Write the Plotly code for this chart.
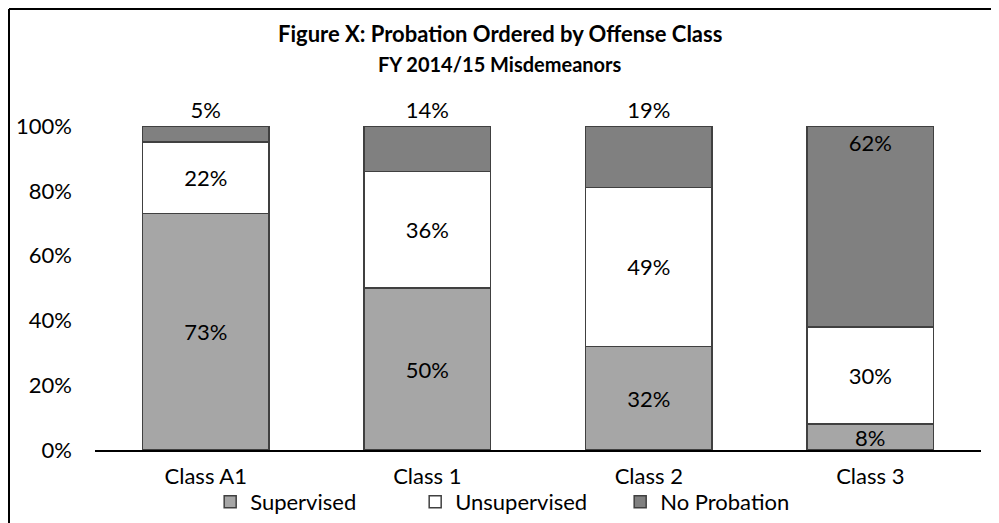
import plotly.graph_objects as go

categories = ["Class A1", "Class 1", "Class 2", "Class 3"]
supervised = [73, 50, 32, 8]
unsupervised = [22, 36, 49, 30]
no_probation = [5, 14, 19, 62]
ytick_vals = [0, 20, 40, 60, 80, 100]
ytick_text = ["0%", "20%", "40%", "60%", "80%", "100%"]

FONT = "Lato, Carlito, sans-serif"
edge = dict(color="#404040", width=1.5)

# page body adds an 8px offset, so the figure is 8px smaller than the window
W, H = 991, 515
ML, MR, MT, MB = 87, 18, 118, 73
PW, PH = W - ML - MR, H - MT - MB

fig = go.Figure()
fig.add_trace(go.Bar(
    name="Supervised", x=categories, y=supervised,
    marker=dict(color="#A6A6A6", line=edge),
    text=[f"{v}%" for v in supervised], textposition="inside",
    insidetextanchor="middle", textfont=dict(size=22, color="black"),
))
fig.add_trace(go.Bar(
    name="Unsupervised", x=categories, y=unsupervised,
    marker=dict(color="white", line=edge),
    text=[f"{v}%" for v in unsupervised], textposition="inside",
    insidetextanchor="middle", textfont=dict(size=22, color="black"),
))
fig.add_trace(go.Bar(
    name="No Probation", x=categories, y=no_probation,
    marker=dict(color="#808080", line=edge),
    text=[f"{v}%" for v in no_probation],
    textposition=["outside", "outside", "outside", "inside"],
    insidetextanchor="end", textfont=dict(size=22, color="black"),
    cliponaxis=False,
))

fig.update_layout(
    width=W, height=H,
    barmode="stack", bargap=0.431,
    paper_bgcolor="white", plot_bgcolor="white",
    font=dict(family=FONT, size=22, color="black"),
    margin=dict(l=ML, r=MR, t=MT, b=MB, autoexpand=False),
    uniformtext=dict(minsize=22, mode="show"),
    xaxis=dict(showline=True, linecolor="black", linewidth=2, ticks="",
               tickfont=dict(size=22), showgrid=False, automargin=False,
               ticklabelstandoff=6),
    yaxis=dict(range=[0, 100], tickvals=ytick_vals, ticktext=ytick_text,
               showgrid=False, showline=False, zeroline=False,
               tickfont=dict(size=22), ticks="", ticklabelstandoff=22,
               automargin=False),
    legend=dict(orientation="h", x=0.13, xanchor="left",
                yref="container", y=-0.008, yanchor="bottom",
                bgcolor="rgba(0,0,0,0)",
                entrywidth=160, font=dict(size=22), traceorder="normal"),
    showlegend=True,
)

fig.add_annotation(text="<b>Figure X: Probation Ordered by Offense Class</b>",
                   xref="paper", yref="paper", x=(492 - ML) / PW, y=1.0, yshift=93,
                   showarrow=False, font=dict(size=22, family=FONT),
                   xanchor="center", yanchor="middle")
fig.add_annotation(text="<b>FY 2014/15 Misdemeanors</b>",
                   xref="paper", yref="paper", x=(492 - ML) / PW, y=1.0, yshift=62,
                   showarrow=False, font=dict(size=20, family=FONT),
                   xanchor="center", yanchor="middle")

# outer frame of the original chart box: left and top edges
bx = (1 - ML) / PW
by_top = 1 + (MT - 1) / PH
by_bot = -(H - MT - PH) / PH - 0.02
bx_right = (W - ML) / PW + 0.02
fig.add_shape(type="line", xref="paper", yref="paper", x0=bx, x1=bx_right,
              y0=by_top, y1=by_top, line=dict(color="black", width=2))
fig.add_shape(type="line", xref="paper", yref="paper", x0=bx, x1=bx,
              y0=by_top, y1=by_bot, line=dict(color="black", width=2))

fig.write_html("out.html")
